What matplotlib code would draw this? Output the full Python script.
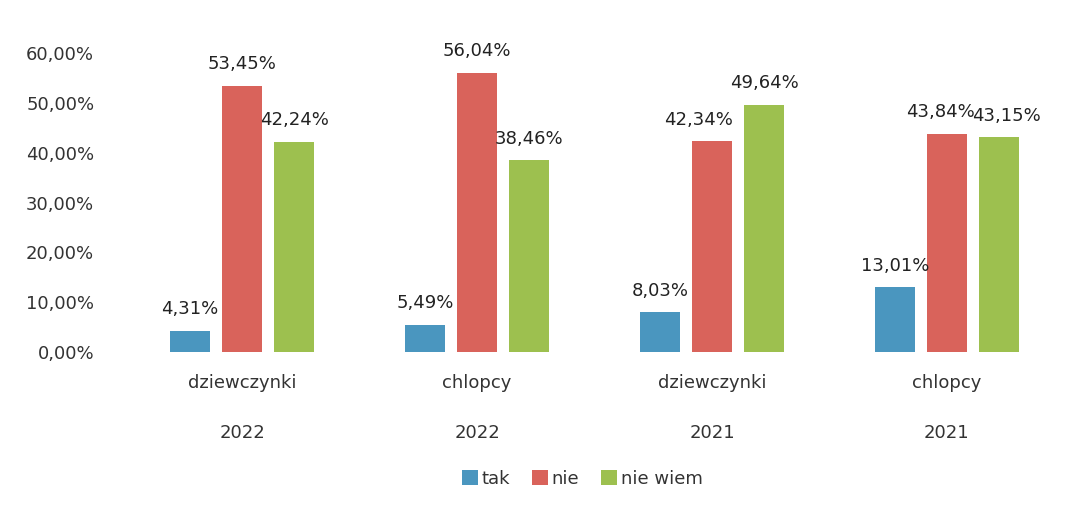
import matplotlib.pyplot as plt
import numpy as np

# Dane
grupy = ['dziewczynki', 'chlopcy', 'dziewczynki', 'chlopcy']
lata = ['2022', '2022', '2021', '2021']
serie = ['tak', 'nie', 'nie wiem']
tak = [4.31, 5.49, 8.03, 13.01]
nie = [53.45, 56.04, 42.34, 43.84]
nie_wiem = [42.24, 38.46, 49.64, 43.15]
kolory = ['#4a96bf', '#d9635b', '#9dc04f']

plt.rcParams['font.family'] = ['DejaVu Sans']

fig = plt.figure(figsize=(10.85, 5.11), dpi=100)
ax = fig.add_axes([0.115, 0.311, 0.866, 0.585])

x = np.arange(len(grupy))
width = 0.17
krok = 0.222

# przesuniecia etykiet, zeby sie nie nakladaly (seria, grupa) -> px
przesuniecia = {(1, 2): -10, (1, 3): -5, (2, 3): 5}

for i, (wartosci, nazwa) in enumerate(zip([tak, nie, nie_wiem], serie)):
    pos = x + (i - 1) * krok
    ax.bar(pos, wartosci, width, color=kolory[i], label=nazwa)
    for j, (xp, v) in enumerate(zip(pos, wartosci)):
        dx = przesuniecia.get((i, j), 0)
        ax.annotate(f'{v:.2f}%'.replace('.', ','), (xp, v), xytext=(dx, 9),
                    textcoords='offset points', ha='center', va='bottom',
                    fontsize=13, color='#222222', annotation_clip=False)

ax.set_xlim(-0.5, 3.5)
ax.set_ylim(0, 60)
ax.set_yticks(np.arange(0, 61, 10))
ax.set_yticklabels([f'{t},00%' for t in range(0, 61, 10)], fontsize=13, color='#333333')
ax.set_xticks(x)
ax.set_xticklabels(grupy, fontsize=13, color='#333333')
ax.tick_params(axis='x', length=0, pad=16)
ax.tick_params(axis='y', length=0, pad=22)

# druga linia etykiet osi X (rok)
for xp, rok in zip(x, lata):
    ax.text(xp, -0.27, rok, transform=ax.get_xaxis_transform(), ha='center', va='center',
            fontsize=13, color='#333333')

for s in ax.spines.values():
    s.set_visible(False)

ax.legend(loc='upper center', bbox_to_anchor=(0.487, -0.34), ncol=3, frameon=False,
          fontsize=13, handlelength=0.9, handleheight=0.9, handletextpad=0.2,
          columnspacing=1.2, labelcolor='#333333')

plt.savefig('out.png', dpi=100)
